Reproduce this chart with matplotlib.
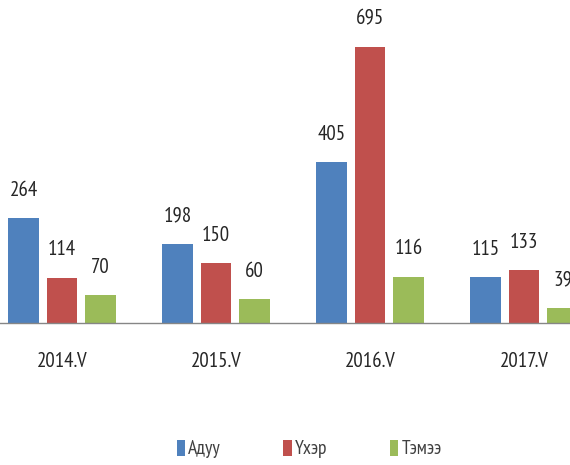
import matplotlib
matplotlib.use("Agg")
import matplotlib.pyplot as plt
from matplotlib import font_manager
from matplotlib.patches import Patch
import numpy as np

# pick a narrow font if one is installed
available = set(f.name for f in font_manager.fontManager.ttflist)
narrow = ['Liberation Sans Narrow', 'Arial Narrow', 'PT Sans Narrow', 'Roboto Condensed',
          'Open Sans Condensed', 'Archivo Narrow', 'Fira Sans Condensed']
fam = [n for n in narrow if n in available][:1] + ['DejaVu Sans']
plt.rcParams['font.family'] = fam

# data
years = ["2014.V", "2015.V", "2016.V", "2017.V"]
series = ["Адуу", "Үхэр", "Тэмээ"]
aduu = [264, 198, 405, 115]
ukher = [114, 150, 695, 133]
temee = [70, 60, 116, 39]
colors = ["#4F81BD", "#C0504D", "#9BBB59"]

fig = plt.figure(figsize=(5.7, 4.65), dpi=100)
ax = fig.add_axes([0, (465 - 323) / 465, 1, 323 / 465])

x = np.arange(len(years))
offsets = [-0.25, 0, 0.25]
for vals, off, col in zip([aduu, ukher, temee], offsets, colors):
    bars = ax.bar(x + off, vals, width=0.2, color=col)
    for b, v in zip(bars, vals):
        ax.annotate(str(v), (b.get_x() + b.get_width() / 2, v),
                    xytext=(0, 28), textcoords='offset pixels',
                    ha='center', va='center', fontsize=15, color='#262626',
                    annotation_clip=False)

ax.set_xlim(-62 / 154, (570 - 62) / 154)
ax.set_ylim(0, 813)
ax.set_xticks(x)
ax.set_xticklabels(years, fontsize=15, color='#262626')
ax.tick_params(axis='x', length=0, pad=21)
ax.set_yticks([])
for s in ['left', 'top', 'right']:
    ax.spines[s].set_visible(False)
ax.spines['bottom'].set_color('#868686')
ax.spines['bottom'].set_linewidth(1)

# legend at the bottom
handles = [Patch(facecolor=c, label=s) for c, s in zip(colors, series)]
fig.legend(handles=handles, loc='center', bbox_to_anchor=(309 / 570, 1 - 449 / 465),
           ncol=3, frameon=False, fontsize=14, handlelength=0.45, handleheight=0.9,
           handletextpad=0.15, columnspacing=3.2, labelcolor='#404040')

fig.savefig("out.png", dpi=100)
